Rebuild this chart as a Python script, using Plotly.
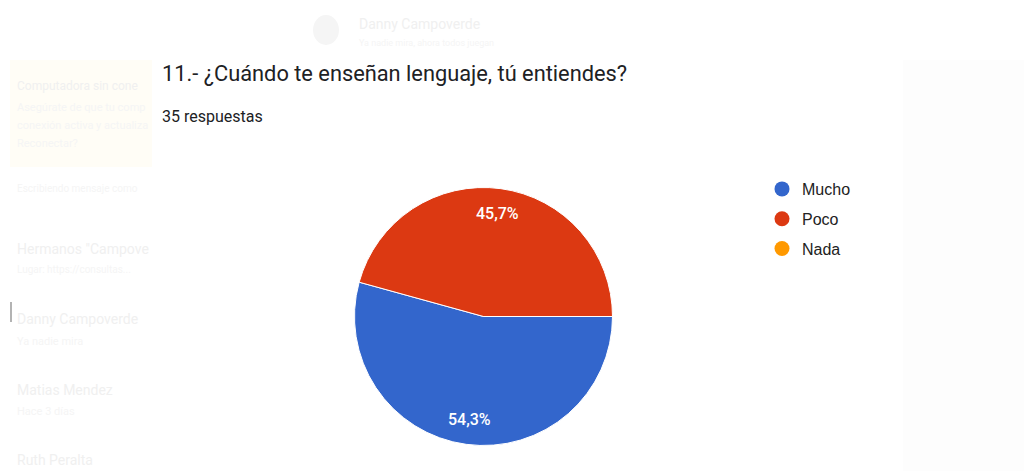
import math
import plotly.graph_objects as go

# ---- data ----
categories = ["Mucho", "Poco", "Nada"]
counts = [19, 16, 0]
colors = ["#3366CC", "#DC3912", "#FF9900"]
title_text = "11.- ¿Cuándo te enseñan lenguaje, tú entiendes?"
subtitle_text = "35 respuestas"

# page is offset by the browser's default 8px body margin
OFF = 8
W, H = 1032 - OFF, 471 - OFF

def px_x(x):
    return (x - OFF) / W

def px_y(y):
    return 1 - (y - OFF) / H

fig = go.Figure()

# pie geometry (page pixels)
cx, cy, r = 483.5, 316.5, 129
fig.add_trace(go.Pie(
    labels=categories,
    values=counts,
    marker=dict(colors=colors, line=dict(color="white", width=1)),
    sort=False,
    direction="clockwise",
    rotation=90,
    textinfo="none",
    showlegend=False,
    hoverinfo="label+percent",
    domain=dict(x=[px_x(cx - r), px_x(cx + r)], y=[px_y(cy + r), px_y(cy - r)]),
))

# slice labels placed along each slice's bisector (derived from the data)
total = sum(counts)
start = 90.0  # clock angle (deg, clockwise from 12 o'clock)
label_r = 104
annotations = []
for cat, v in zip(categories, counts):
    sweep = 360.0 * v / total
    if v > 0:
        mid = math.radians(start + sweep / 2)
        lx = cx + label_r * math.sin(mid)
        ly = cy - label_r * math.cos(mid)
        pct = f"{100 * v / total:.1f}".replace(".", ",") + "%"
        annotations.append(dict(x=px_x(lx), y=px_y(ly), xref="paper", yref="paper", text=pct,
                                showarrow=False, xanchor="center", yanchor="middle",
                                font=dict(family="Roboto", size=16, color="white", weight=500)))
    start += sweep

# legend entries (circle markers)
for cat, col in zip(categories, colors):
    fig.add_trace(go.Scatter(
        x=[None], y=[None], mode="markers", name=cat,
        legendgroup=cat,
        marker=dict(color=col, size=15, symbol="circle"),
        showlegend=True,
    ))

# faint background ghost UI
ghost = "#f0f0f0"
ghost2 = "#f5f5f5"
shapes = [
    dict(type="rect", xref="paper", yref="paper", x0=px_x(10), x1=px_x(152), y0=px_y(167), y1=px_y(60),
         fillcolor="#fffdf6", line=dict(width=0), layer="below"),
    dict(type="rect", xref="paper", yref="paper", x0=px_x(903), x1=px_x(1032), y0=px_y(471), y1=px_y(60),
         fillcolor="#fdfdfd", line=dict(width=0), layer="below"),
    dict(type="circle", xref="paper", yref="paper", x0=px_x(313), x1=px_x(339), y0=px_y(45), y1=px_y(15),
         fillcolor="#f5f5f5", line=dict(width=0), layer="below"),
    dict(type="line", xref="paper", yref="paper", x0=px_x(11), x1=px_x(11), y0=px_y(322), y1=px_y(302),
         line=dict(color="#9a9a9a", width=1.5)),
]
ghost_texts = [
    (357, 24, "Danny Campoverde", 14, ghost),
    (357, 43, "Ya nadie mira, ahora todos juegan", 9, ghost2),
    (15, 86, "Computadora sin cone", 12, ghost),
    (15, 107, "Asegúrate de que tu comp", 11, ghost2),
    (15, 126, "conexión activa y actualiza", 11, ghost2),
    (15, 143, "Reconectar?", 11, ghost2),
    (15, 189, "Escribiendo mensaje como", 10, ghost2),
    (15, 249, "Hermanos \"Campove", 14, ghost),
    (15, 269, "Lugar: https://consultas...", 10, ghost2),
    (15, 319, "Danny Campoverde", 14, ghost),
    (15, 341, "Ya nadie mira", 11, ghost2),
    (15, 390, "Matias Mendez", 14, ghost),
    (15, 411, "Hace 3 días", 11, ghost2),
    (15, 460, "Ruth Peralta", 14, ghost),
]
for x, y, t, s, c in ghost_texts:
    annotations.append(dict(x=px_x(x), y=px_y(y), xref="paper", yref="paper", text=t, showarrow=False,
                            xanchor="left", yanchor="middle", font=dict(family="Roboto", size=s, color=c)))

annotations.append(dict(x=px_x(160), y=px_y(73), xref="paper", yref="paper", text=title_text, showarrow=False,
                        xanchor="left", yanchor="middle", font=dict(family="Roboto", size=21.8, color="#202124")))
annotations.append(dict(x=px_x(160), y=px_y(117), xref="paper", yref="paper", text=subtitle_text, showarrow=False,
                        xanchor="left", yanchor="middle", font=dict(family="Roboto", size=16, color="#202124")))

fig.update_layout(
    width=W, height=H,
    margin=dict(l=0, r=0, t=0, b=0),
    paper_bgcolor="white", plot_bgcolor="white",
    separators=",.",
    xaxis=dict(visible=False), yaxis=dict(visible=False),
    shapes=shapes,
    annotations=annotations,
    legend=dict(x=754 / W, y=1 - 164 / H, xanchor="left", yanchor="top",
                font=dict(family="Liberation Sans", size=16, color="#222222"),
                tracegroupgap=6, itemsizing="trace", bgcolor="rgba(0,0,0,0)"),
)

fig.write_html("out.html")
